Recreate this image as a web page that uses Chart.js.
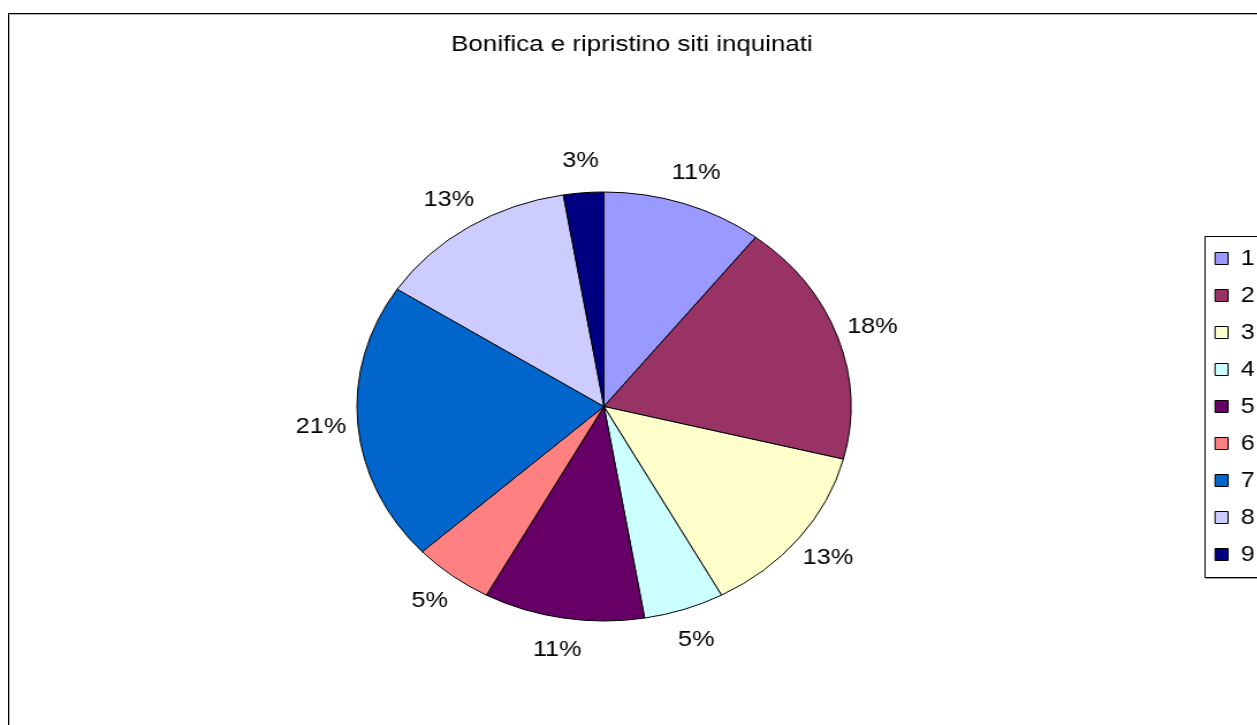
<!DOCTYPE html>
<html>
<head>
<meta charset="utf-8">
<script src="https://cdn.jsdelivr.net/npm/chart.js@4/dist/chart.umd.min.js"></script>
<style>
  html, body { margin: 0; padding: 0; background: #fff; overflow: hidden; width: 1257px; height: 725px; }
  #frame { position: absolute; left: 8px; top: 13px; width: 1400px; height: 900px;
           border-left: 1px solid #000; border-top: 1px solid #000; box-shadow: inset 1px 1px 0 #b0b0b0; }
  /* the reference picture is stretched sideways, so the canvas is too */
  #grafico { position: absolute; left: 0; top: 0; transform: scaleX(1.1515); transform-origin: 0 0; }
</style>
</head>
<body>
<div id="frame"></div>
<canvas id="grafico" width="1092" height="725"></canvas>
<script>
// dati del grafico
var titolo = 'Bonifica e ripristino siti inquinati';
var categorie = ['1', '2', '3', '4', '5', '6', '7', '8', '9'];
var valori = [4, 7, 5, 2, 4, 2, 8, 5, 1];
var colori = ['#9999FF', '#993366', '#FFFFCC', '#CCFFFF', '#660066', '#FF8080', '#0066CC', '#CCCCFF', '#000080'];

Chart.defaults.font.family = 'Arial, "Liberation Sans", sans-serif';
Chart.defaults.color = '#000';

// etichette percentuali fuori dalla torta
var etichette = {
  id: 'etichette',
  afterDatasetsDraw: function(chart) {
    var ctx = chart.ctx;
    var meta = chart.getDatasetMeta(0);
    var tot = valori.reduce(function(a, b) { return a + b; }, 0);
    ctx.save();
    ctx.font = '22px Arial, "Liberation Sans", sans-serif';
    ctx.fillStyle = '#000';
    ctx.textAlign = 'center';
    ctx.textBaseline = 'middle';
    meta.data.forEach(function(arc, i) {
      var mid = (arc.startAngle + arc.endAngle) / 2;
      var d = arc.outerRadius + 32;
      ctx.fillText(Math.round(valori[i] / tot * 100) + '%', arc.x + Math.cos(mid) * d, arc.y + Math.sin(mid) * d);
    });
    ctx.restore();
  }
};

// cornice della legenda
var cornice = {
  id: 'cornice',
  afterDraw: function(chart) {
    var box = chart.legend.legendHitBoxes;
    if (!box || !box.length) return;
    var ctx = chart.ctx;
    var x = box[0].left - 9.6;
    var y = box[0].top - 11.5;
    var last = box[box.length - 1];
    var h = last.top + last.height + 11.5 - y;
    ctx.save();
    ctx.strokeStyle = '#000';
    ctx.lineWidth = 1;
    ctx.strokeRect(Math.round(x) + 0.5, Math.round(y) + 0.5, 200, Math.round(h));
    ctx.strokeStyle = '#999';
    ctx.beginPath();
    ctx.moveTo(Math.round(x) + 1, Math.round(y + h) + 1.5);
    ctx.lineTo(Math.round(x) + 200, Math.round(y + h) + 1.5);
    ctx.stroke();
    ctx.restore();
  }
};

var ctx = document.getElementById('grafico').getContext('2d');
var myPie = new Chart(ctx, {
  type: 'pie',
  data: {
    labels: categorie,
    datasets: [{
      data: valori,
      backgroundColor: colori,
      borderColor: '#000',
      borderWidth: 1,
      hoverOffset: 0
    }]
  },
  options: {
    responsive: false,
    animation: false,
    devicePixelRatio: 1,
    radius: 214.5,
    layout: { padding: { left: 8.8, right: 3.2, top: 0, bottom: 10 } },
    plugins: {
      title: {
        display: true,
        text: titolo,
        color: '#000',
        font: { size: 22.5, weight: 'normal' },
        padding: { top: 31.5, bottom: 39.5 }
      },
      legend: {
        position: 'right',
        fullSize: false,
        maxWidth: 48.6,
        labels: {
          boxWidth: 11.3,
          boxHeight: 12,
          padding: 15,
          color: '#000',
          font: { size: 22 }
        }
      },
      tooltip: { enabled: false }
    }
  },
  plugins: [etichette, cornice]
});
</script>
</body>
</html>
